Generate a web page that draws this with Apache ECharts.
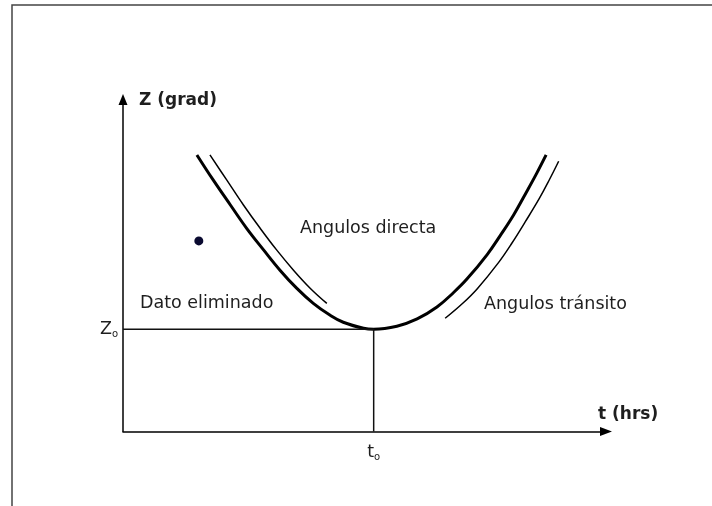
<!DOCTYPE html>
<html>
<head>
<meta charset="utf-8">
<script src="https://cdn.jsdelivr.net/npm/echarts@6/dist/echarts.min.js"></script>
<style>
  html, body { margin: 0; padding: 0; background: #fff; }
  #chart { width: 712px; height: 506px; }
</style>
</head>
<body>
<div id="chart"></div>
<script>
  // axis units (t 0..10, Z 0..10)
  const curveT = [1.53, 1.87, 2.22, 2.56, 2.91, 3.25, 3.60, 3.94, 4.29, 4.56, 4.98, 5.19, 5.67, 6.09, 6.50, 6.84, 7.12, 7.54, 7.81, 8.09, 8.36, 8.57, 8.76];
  const curveZ = [8.33, 7.57, 6.83, 6.12, 5.47, 4.86, 4.31, 3.86, 3.50, 3.29, 3.11, 3.08, 3.17, 3.39, 3.75, 4.18, 4.59, 5.33, 5.90, 6.53, 7.23, 7.79, 8.33];
  // thin line beside the left branch (angulos directa)
  const directaT = [1.80, 2.15, 2.49, 2.84, 3.18, 3.53, 3.88, 4.22];
  const directaZ = [8.33, 7.57, 6.83, 6.12, 5.47, 4.86, 4.31, 3.86];
  // thin line beside the right branch (angulos transito)
  const transitoT = [6.67, 7.04, 7.34, 7.77, 8.05, 8.33, 8.62, 8.83, 9.02];
  const transitoZ = [3.41, 3.87, 4.31, 5.08, 5.67, 6.32, 7.02, 7.59, 8.14];
  const droppedT = [1.57];
  const droppedZ = [5.74];
  const t0 = 5.19;
  const z0 = 3.08;

  const zip = (xs, ys) => xs.map((x, i) => [x, ys[i]]);
  const font = 'DejaVu Sans';
  const ink = '#1e1e1e';

  const chart = echarts.init(document.getElementById('chart'));
  const option = {
    animation: false,
    backgroundColor: '#fff',
    grid: {
      left: 123,
      right: 106,
      top: 99.5,
      bottom: 74.5
    },
    xAxis: {
      type: 'value',
      min: 0,
      max: 10,
      axisLine: {
        symbol: ['none', 'triangle'],
        symbolSize: [9, 12],
        lineStyle: { color: '#000', width: 1.5 }
      },
      axisTick: { show: false },
      splitLine: { show: false },
      axisLabel: {
        customValues: [t0],
        margin: 11,
        formatter: () => '{m|t}{s|o}',
        rich: {
          m: { fontFamily: font, fontSize: 17.5, color: ink, lineHeight: 20 },
          s: { fontFamily: font, fontSize: 10, color: ink, verticalAlign: 'bottom' }
        }
      }
    },
    yAxis: {
      type: 'value',
      min: 0,
      max: 10,
      name: 'Z (grad)',
      nameLocation: 'end',
      nameGap: -1.5,
      nameTextStyle: {
        fontFamily: font, fontSize: 17, fontWeight: 'bold', color: ink,
        align: 'left', verticalAlign: 'middle', padding: [0, 0, 0, 16]
      },
      axisLine: {
        symbol: ['none', 'triangle'],
        symbolSize: [9, 11],
        lineStyle: { color: '#000', width: 1.5 }
      },
      axisTick: { show: false },
      splitLine: { show: false },
      axisLabel: {
        customValues: [z0],
        margin: 5,
        formatter: () => '{m|Z}{s|o}',
        rich: {
          m: { fontFamily: font, fontSize: 17.5, color: ink, lineHeight: 20 },
          s: { fontFamily: font, fontSize: 10, color: ink, verticalAlign: 'bottom' }
        }
      }
    },
    series: [
      {
        type: 'line',
        data: zip(curveT, curveZ),
        smooth: 0.4,
        symbol: 'none',
        lineStyle: { color: '#000', width: 3 }
      },
      {
        type: 'line',
        data: zip(directaT, directaZ),
        smooth: 0.4,
        symbol: 'none',
        lineStyle: { color: '#000', width: 1.5 }
      },
      {
        type: 'line',
        data: zip(transitoT, transitoZ),
        smooth: 0.4,
        symbol: 'none',
        lineStyle: { color: '#000', width: 1.5 }
      },
      {
        // Z0 / t0 guide lines
        type: 'line',
        data: [[0, z0], [t0, z0], [t0, 0]],
        symbol: 'none',
        lineStyle: { color: '#111', width: 1.5 }
      },
      {
        type: 'scatter',
        data: zip(droppedT, droppedZ),
        symbolSize: 9,
        itemStyle: { color: '#0a0a30', opacity: 1 }
      }
    ],
    graphic: [
      {
        type: 'polyline',
        shape: { points: [[12, 506], [12, 5], [712, 5]] },
        style: { stroke: '#444', lineWidth: 1.5, fill: null }
      },
      {
        type: 'text', x: 598, y: 415,
        style: { text: 't (hrs)', fill: ink, font: 'bold 17px "DejaVu Sans"', textAlign: 'left', textVerticalAlign: 'middle' }
      },
      {
        type: 'text', x: 300, y: 228.5,
        style: { text: 'Angulos directa', fill: ink, font: '17.5px "DejaVu Sans"', textAlign: 'left', textVerticalAlign: 'middle' }
      },
      {
        type: 'text', x: 140, y: 303.5,
        style: { text: 'Dato eliminado', fill: ink, font: '17.5px "DejaVu Sans"', textAlign: 'left', textVerticalAlign: 'middle' }
      },
      {
        type: 'text', x: 484, y: 304.5,
        style: { text: 'Angulos tránsito', fill: ink, font: '17.5px "DejaVu Sans"', textAlign: 'left', textVerticalAlign: 'middle' }
      }
    ]
  };
  chart.setOption(option);
</script>
</body>
</html>
